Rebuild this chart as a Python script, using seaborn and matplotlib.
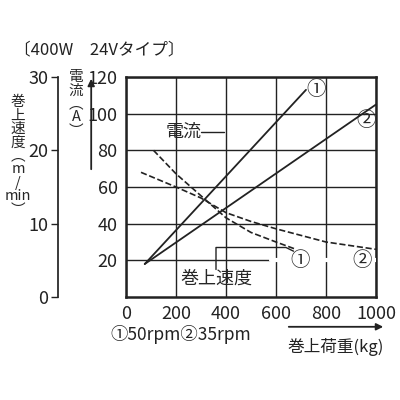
import matplotlib
matplotlib.use('Agg')
import matplotlib.pyplot as plt
import seaborn as sns

sns.set_theme(style="white")
plt.rcParams['font.family'] = ['Noto Sans CJK JP', 'DejaVu Sans']

# current (A) vs load (kg)
load_c1 = [75, 720]
curr_1 = [18, 113]
load_c2 = [75, 1000]
curr_2 = [18, 105]
# hoist speed (m/min) vs load (kg)
load_s1 = [110, 200, 300, 400, 500, 600, 680]
speed_1 = [20.0, 16.8, 13.8, 10.8, 8.8, 7.5, 6.5]
load_s2 = [60, 200, 300, 400, 500, 600, 800, 1000]
speed_2 = [17.0, 15.0, 13.5, 11.5, 10.3, 9.3, 7.5, 6.5]

fig = plt.figure(figsize=(4, 4), dpi=100)
ax = fig.add_axes([0.315, 0.2575, 0.625, 0.55])
sns.lineplot(x=load_c1, y=curr_1, ax=ax, color='#222', lw=1.3)
sns.lineplot(x=load_c2, y=curr_2, ax=ax, color='#222', lw=1.3)
ax.set_xlim(0, 1000)
ax.set_ylim(0, 120)
ax.set_xticks(range(0, 1001, 200))
ax.set_yticks(range(20, 121, 20))
ax.grid(True, color='#222', lw=1)
for s in ax.spines.values():
    s.set_color('#222'); s.set_linewidth(1.8)
ax.tick_params(axis='both', length=0, labelsize=13, colors='#222', pad=6)

ax2 = ax.twinx()
sns.lineplot(x=load_s1, y=speed_1, ax=ax2, color='#222', lw=1.2, linestyle='--')
sns.lineplot(x=load_s2, y=speed_2, ax=ax2, color='#222', lw=1.2, linestyle='--')
ax2.set_ylim(0, 30)
ax2.set_yticks([0, 10, 20, 30])
ax2.yaxis.set_ticks_position('left')
ax2.yaxis.set_label_position('left')
ax2.spines['left'].set_position(('outward', 49))
for k in ['right', 'top', 'bottom']:
    ax2.spines[k].set_visible(False)
ax2.spines['left'].set_color('#222')
ax2.tick_params(axis='y', length=5, labelsize=13, colors='#222', width=1, pad=2)
ax2.grid(False)

# annotations
ax.text(720, 113, '①', fontsize=14, ha='left', va='center')
ax.text(1000, 96, '②', fontsize=14, ha='right', va='center')
ax.text(230, 90, '電流', fontsize=13, ha='center', va='center')
ax.plot([300, 390], [90, 90], color='#222', lw=1)
ax.plot([580, 1000], [20, 20], color='white', lw=3, zorder=3)
ax.text(696, 20, '①', fontsize=14, ha='center', va='center', zorder=4)
ax.text(944, 20, '②', fontsize=14, ha='center', va='center', zorder=4)
ax.plot([360, 360, 640, 670], [15, 27, 27, 25], color='#222', lw=1)
ax.text(360, 10, '巻上速度', fontsize=13, ha='center', va='center')

fig.text(0.035, 0.865, '〔400W　24Vタイプ〕', fontsize=12, color='#222')
fig.text(0.045, 0.61, '巻\n上\n速\n度\n︵\nm\n/\nmin\n︶', fontsize=10.5, ha='center', va='center', linespacing=0.95)
fig.text(0.19, 0.74, '電\n流\n︵\nA\n︶', fontsize=10.5, ha='center', va='center', linespacing=0.95)
fig.add_artist(matplotlib.patches.FancyArrowPatch((0.228, 0.57), (0.228, 0.81), transform=fig.transFigure,
                                                  arrowstyle='-|>', mutation_scale=10, color='#222', lw=1.3))
fig.text(0.275, 0.15, '①50rpm②35rpm', fontsize=12.5, color='#222')
fig.text(0.96, 0.12, '巻上荷重(kg)', fontsize=12, ha='right', color='#222')
fig.add_artist(matplotlib.patches.FancyArrowPatch((0.715, 0.183), (0.965, 0.183), transform=fig.transFigure,
                                                  arrowstyle='-|>', mutation_scale=10, color='#222', lw=1.3))

fig.savefig('out.png', dpi=100)
